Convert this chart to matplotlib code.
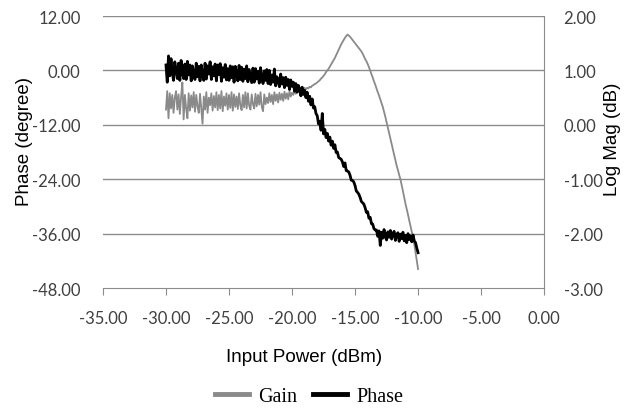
import numpy as np
import matplotlib
matplotlib.use("Agg")
import matplotlib.pyplot as plt
from matplotlib.lines import Line2D

# ---- data ----
input_power = np.linspace(-30.0, -10.0, 201)  # dBm, 0.1 dBm steps

gain_db = [
    0.28, 0.62, 0.12, 0.58, 0.30, 0.55, 0.22, 0.50, 0.62, 0.28,
    0.56, 0.20, 0.52, 0.78, 0.10, 0.55, 0.30, 0.12, 0.58, 0.26,
    0.54, 0.32, 0.60, 0.24, 0.55, 0.34, 0.22, 0.57, 0.30, 0.02,
    0.52, 0.28, 0.60, 0.22, 0.50, 0.36, 0.58, 0.26, 0.53, 0.32,
    0.60, 0.27, 0.55, 0.30, 0.62, 0.25, 0.52, 0.35, 0.58, 0.28,
    0.55, 0.31, 0.60, 0.26, 0.56, 0.33, 0.52, 0.29, 0.58, 0.36,
    0.27, 0.55, 0.32, 0.60, 0.30, 0.58, 0.35, 0.28, 0.56, 0.38,
    0.30, 0.57, 0.34, 0.55, 0.37, 0.60, 0.33, 0.25, 0.56, 0.38,
    0.50,
    0.40, 0.58, 0.42, 0.55, 0.38, 0.60, 0.44, 0.56, 0.41, 0.59,
    0.46, 0.57, 0.44, 0.61, 0.48, 0.58, 0.47, 0.62, 0.52, 0.59,
    0.55, 0.63, 0.57, 0.64, 0.60, 0.66, 0.61, 0.66, 0.63, 0.68,
    0.65, 0.68, 0.67, 0.70, 0.69, 0.72, 0.73, 0.75, 0.76, 0.78,
    0.80, 0.82, 0.85, 0.87, 0.90, 0.93, 0.97, 1.00, 1.03, 1.07,
    1.11, 1.15, 1.19, 1.23, 1.28, 1.33, 1.38, 1.43, 1.48, 1.52,
    1.56, 1.60, 1.63, 1.66,
    1.64, 1.62, 1.59, 1.56, 1.53, 1.50, 1.47, 1.44, 1.41, 1.38,
    1.35, 1.31, 1.26, 1.21, 1.17, 1.12, 1.06, 1.00, 0.93, 0.87,
    0.80, 0.74, 0.67, 0.60, 0.54, 0.47,
    0.40, 0.33, 0.24, 0.15, 0.05, -0.05, -0.15, -0.25, -0.35, -0.45,
    -0.55, -0.65, -0.75, -0.83, -0.92, -1.00, -1.11, -1.22, -1.34, -1.45,
    -1.55, -1.65, -1.76, -1.86, -1.97, -2.08, -2.20, -2.35, -2.50, -2.65,
]

phase_deg = [
    1.2, -2.6, 3.2, -1.2, 2.6, -0.4, -2.2, 1.9, 0.2, -1.8,
    1.6, -2.2, 2.2, -0.5, -1.8, 1.4, -2.0, 2.0, -1.0, 1.2,
    -2.3, 1.0, -0.9, -2.0, 1.6, -1.4, 0.9, -2.3, 1.2, -1.0,
    -2.2, 1.6, -1.9, 1.0, -0.8, 1.9, -2.0, 0.8, -1.2, 1.4,
    -2.3, 1.2, -0.9, 1.5, -2.4, 0.6, -1.5, 1.3, -2.1, 0.4,
    -2.2, 1.0, -1.6, 0.8, -2.6, 0.9, -0.6, -2.3, 1.1, -2.0,
    0.7, -2.4, 0.3, -1.8, 1.0, -2.5, 0.2, -1.3, -2.7, 0.5,
    -2.6, 0.4, -1.9, -0.2, -2.8, 0.6, -1.5, -2.9, -0.1, -2.2, 0.2,
    -2.9, 0.0, -3.1, -1.0, -2.6, 0.3, -3.4, -1.4, -2.2, -3.6,
    -0.8, -3.0, -1.6, -3.8, -1.5, -3.3, -2.0, -4.2, -2.1, -3.5,
    -2.6, -4.6, -2.9, -4.8, -3.3, -4.2, -5.6, -3.7, -5.3, -4.4,
    -6.0, -4.8, -6.8, -5.7, -7.6, -6.3, -8.3, -8.0, -9.5, -10.0,
    -11.8, -11.2, -13.2, -9.5, -14.0, -13.0, -14.8, -13.9, -15.6, -14.7,
    -16.5, -15.6, -17.2, -16.4, -18.1, -18.0,
    -19.2, -19.4, -19.6, -20.2, -21.2, -20.4, -22.1, -22.2, -22.4, -23.1,
    -24.2, -24.3, -24.6, -25.4,
    -26.6, -26.9, -27.3, -28.0, -28.9, -29.2, -29.5, -30.3, -31.3, -31.2,
    -32.6, -32.4, -33.8, -33.9, -34.9, -35.2,
    -35.2, -36.6, -35.4, -38.6, -35.7, -37.0, -35.1, -36.7, -37.4, -35.6,
    -36.8, -35.3, -37.2, -36.0, -35.5, -37.5, -36.2, -35.8, -37.7, -36.1,
    -37.1, -35.7, -37.6, -36.4, -38.0, -36.0, -37.3, -36.5, -37.8, -36.3,
    -37.6, -38.0, -39.2, -40.2,
]

x_ticks = [-35, -30, -25, -20, -15, -10, -5, 0]
x_labels = ["-35.00", "-30.00", "-25.00", "-20.00", "-15.00", "-10.00", "-5.00", "0.00"]
phase_ticks = [-48, -36, -24, -12, 0, 12]
phase_labels = ["-48.00", "-36.00", "-24.00", "-12.00", "0.00", "12.00"]
gain_ticks = [-3, -2, -1, 0, 1, 2]
gain_labels = ["-3.00", "-2.00", "-1.00", "0.00", "1.00", "2.00"]

# ---- figure ----
fig = plt.figure(figsize=(6.24, 4.10), dpi=100)
ax = fig.add_axes([0.165, 0.295, 0.707, 0.6635])
ax2 = ax.twinx()
ax.set_zorder(ax2.get_zorder() + 1)
ax.patch.set_visible(False)

grid_c = "#8c8c8c"
tick_font = dict(family=["Lato", "DejaVu Sans"], size=12, color="#404040")

ax.set_xlim(-35, 0)
ax.set_ylim(-48, 12)
ax2.set_ylim(-3, 2)

# gridlines on ax2 (below gain line)
for g in gain_ticks[1:]:
    ax2.axhline(g, color=grid_c, lw=1.0, zorder=0)

ax2.plot(input_power, gain_db, color="#8a8a8a", lw=1.3, zorder=2)
ax.plot(input_power, phase_deg, color="black", lw=2.0, zorder=3)

for s in ["top", "left", "right"]:
    ax.spines[s].set_visible(False)
ax.spines["bottom"].set_color(grid_c)
for s in ["top", "left", "bottom"]:
    ax2.spines[s].set_visible(False)
ax2.spines["right"].set_color(grid_c)

ax.set_xticks(x_ticks)
ax.set_xticklabels(x_labels, fontdict=tick_font)
ax.set_yticks(phase_ticks)
ax.set_yticklabels(phase_labels, fontdict=tick_font)
ax.tick_params(axis="x", direction="out", length=5, color=grid_c, pad=11)
ax.tick_params(axis="y", length=0, pad=16)

ax2.set_yticks(gain_ticks)
ax2.set_yticklabels(gain_labels, fontdict=tick_font)
ax2.tick_params(axis="y", length=0, pad=14)

fig.text(0.039, 0.654, "Phase (degree)", rotation=90, ha="center", va="center",
         family="Liberation Sans", fontsize=13.5, color="black")
fig.text(0.981, 0.66, "Log Mag (dB)", rotation=90, ha="center", va="center",
         family="Liberation Sans", fontsize=13.5, color="black")
fig.text(0.487, 0.127, "Input Power (dBm)", ha="center", va="center",
         family="Liberation Sans", fontsize=13.5, color="black")

handles = [Line2D([], [], color="#8a8a8a", lw=3.5),
           Line2D([], [], color="black", lw=3.5)]
fig.legend(handles, ["Gain", "Phase"], loc="center", bbox_to_anchor=(0.495, 0.03),
           ncol=2, frameon=False, handlelength=1.7, handletextpad=0.45,
           columnspacing=0.8, prop=dict(family="Liberation Serif", size=14.5))

fig.savefig("out.png", dpi=100)
